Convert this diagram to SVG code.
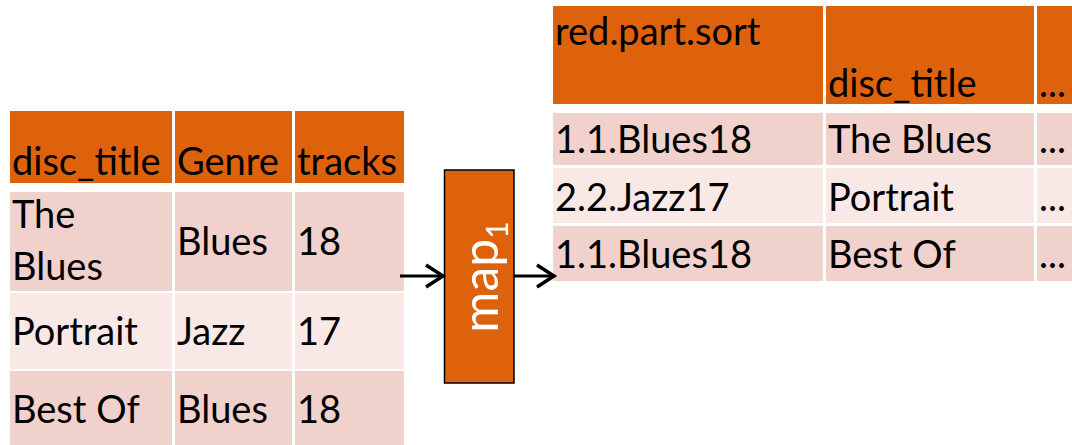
<svg xmlns="http://www.w3.org/2000/svg" width="1072" height="445" viewBox="0 0 1072 445">
<defs>
<style>
.hd{fill:#DE620B}
.dk{fill:#F0D1CC}
.lt{fill:#F8E8E6}
.t{font-family:Lato,"Liberation Sans",sans-serif;font-size:38px;fill:#000}
.mp{font-family:Lato,"Liberation Sans",sans-serif;font-size:50px;fill:#fff}
.ar{stroke:#000;stroke-width:3;fill:none}
</style>
<marker id="ah" markerWidth="24" markerHeight="28" refX="20" refY="14" orient="auto" markerUnits="userSpaceOnUse">
<path d="M3,3 L20,14 L3,25" stroke="#000" stroke-width="3.5" fill="none"/>
</marker>
</defs>
<rect width="1072" height="445" fill="#fff"/>
<g id="input-table">
<rect class="hd" x="10" y="111" width="162" height="72"/>
<rect class="hd" x="175" y="111" width="117" height="72"/>
<rect class="hd" x="295" y="111" width="109" height="72"/>
<rect class="dk" x="10" y="192" width="162" height="99"/>
<rect class="dk" x="175" y="192" width="117" height="99"/>
<rect class="dk" x="295" y="192" width="109" height="99"/>
<rect class="lt" x="10" y="293" width="162" height="76"/>
<rect class="lt" x="175" y="293" width="117" height="76"/>
<rect class="lt" x="295" y="293" width="109" height="76"/>
<rect class="dk" x="10" y="371" width="162" height="74"/>
<rect class="dk" x="175" y="371" width="117" height="74"/>
<rect class="dk" x="295" y="371" width="109" height="74"/>
<text class="t" x="12" y="175">disc_title</text>
<text class="t" x="177" y="175">Genre</text>
<text class="t" x="297" y="175">tracks</text>
<text class="t" x="12" y="228">The</text>
<text class="t" x="12" y="280">Blues</text>
<text class="t" x="177" y="255">Blues</text>
<text class="t" x="297" y="255">18</text>
<text class="t" x="12" y="345">Portrait</text>
<text class="t" x="177" y="345">Jazz</text>
<text class="t" x="297" y="345">17</text>
<text class="t" x="12" y="423">Best Of</text>
<text class="t" x="177" y="423">Blues</text>
<text class="t" x="297" y="423">18</text>
</g>
<g id="map1">
<rect x="444.5" y="170" width="69.5" height="213" fill="#DE620B" stroke="#000" stroke-width="1.5"/>
<text class="mp" transform="translate(498,277) rotate(-90)" text-anchor="middle">map<tspan font-size="30" dy="10">1</tspan></text>
</g>
<g id="output-table">
<rect class="hd" x="553" y="6" width="270" height="98"/>
<rect class="hd" x="826" y="6" width="208" height="98"/>
<rect class="hd" x="1037" y="6" width="40" height="98"/>
<rect class="dk" x="553" y="113" width="270" height="52"/>
<rect class="dk" x="826" y="113" width="208" height="52"/>
<rect class="dk" x="1037" y="113" width="40" height="52"/>
<rect class="lt" x="553" y="168" width="270" height="55"/>
<rect class="lt" x="826" y="168" width="208" height="55"/>
<rect class="lt" x="1037" y="168" width="40" height="55"/>
<rect class="dk" x="553" y="226" width="270" height="55"/>
<rect class="dk" x="826" y="226" width="208" height="55"/>
<rect class="dk" x="1037" y="226" width="40" height="55"/>
<text class="t" x="555" y="45">red.part.sort</text>
<text class="t" x="828" y="97">disc_title</text>
<text class="t" x="1039" y="97">...</text>
<text class="t" x="555" y="153">1.1.Blues18</text>
<text class="t" x="828" y="153">The Blues</text>
<text class="t" x="1039" y="153">...</text>
<text class="t" x="555" y="211">2.2.Jazz17</text>
<text class="t" x="828" y="211">Portrait</text>
<text class="t" x="1039" y="211">...</text>
<text class="t" x="555" y="268">1.1.Blues18</text>
<text class="t" x="828" y="268">Best Of</text>
<text class="t" x="1039" y="268">...</text>
</g>
<g id="connectors">
<line class="ar" x1="400" y1="276" x2="443" y2="276" marker-end="url(#ah)"/>
<line class="ar" x1="514" y1="276" x2="554" y2="276" marker-end="url(#ah)"/>
</g>
</svg>
